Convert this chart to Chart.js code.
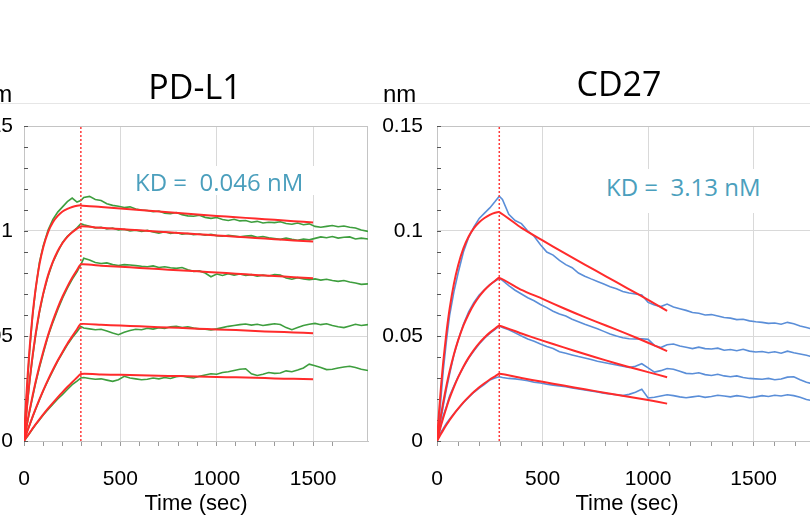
<!DOCTYPE html>
<html><head><meta charset="utf-8">
<script src="https://cdn.jsdelivr.net/npm/chart.js@4.4.1/dist/chart.umd.min.js"></script>
<style>
html,body{margin:0;padding:0;background:#fff;}
body{width:810px;height:521px;overflow:hidden;position:relative;}
canvas{position:absolute;top:0;}
.t{position:absolute;white-space:pre;line-height:1;z-index:2;}
.title{font-family:'Open Sans';font-size:34px;color:#000;text-align:center;width:300px;}
.kd{font-family:'Open Sans';font-size:24px;color:#4b9fbd;background:#fff;}
.nm{font-family:'Liberation Sans';font-size:24px;color:#000;}
</style></head><body>
<div style="position:absolute;left:0;top:103px;width:810px;height:1px;background:#e6e6e6"></div>
<div class="t title" style="left:45px;top:69px">PD-L1</div>
<div class="t title" style="left:469px;top:66px">CD27</div>
<div class="t nm" style="left:-21px;top:82px">nm</div>
<div class="t nm" style="left:383px;top:82px">nm</div>
<div class="t kd" style="left:135px;top:170px;padding:4px 12px 1px 12px;margin:-4px -12px -1px -12px">KD =  0.046 nM</div>
<div class="t kd" style="left:606px;top:175px;padding:6px 12px 14px 14px;margin:-6px -12px -14px -14px">KD =  3.13 nM</div>
<canvas id="c1" width="456" height="521" style="left:-60px"></canvas>
<canvas id="c2" width="475" height="521" style="left:370px"></canvas>
<script>
// ---------- shared time axes (sec) ----------
const assocT = [0,10,20,30,45,60,80,100,125,150,175,200,225,250,275,295];
const fitDissocT_PD = [400,500,600,700,800,900,1000,1100,1200,1300,1400,1500];
const fitDissocT_CD = [400,500,600,700,800,900,1000,1090];
const dataDissocT_PD = [310,340,370,400,430,460,490,520,550,580,610,640,670,700,730,760,790,820,850,880,910,940,970,1000,1030,1060,1090,1120,1150,1180,1210,1240,1270,1300,1330,1360,1390,1420,1450,1480,1510,1540,1570,1600,1630,1660,1690,1720,1750,1785];
const dataDissocT_CD = [310,340,370,400,430,460,490,520,550,580,610,640,670,700,730,760,790,820,850,880,910,940,970,1000,1030,1060,1090,1120,1150,1180,1210,1240,1270,1300,1330,1360,1390,1420,1450,1480,1510,1540,1570,1600,1630,1660,1690,1720,1750,1780,1800];
const switchTime = 295;

// ---------- PD-L1 measured (green) ----------
const pdG1a = [0,.016,.031,.044,.060,.072,.085,.093,.1005,.1055,.109,.1115,.114,.1157,.1138,.1145];
const pdG1d = [.1160,.1165,.1150,.1145,.1130,.1122,.1118,.1112,.1115,.1105,.1100,.1098,.1092,.1095,.1085,.1082,.1088,.1078,.1072,.1070,.1075,.1065,.1060,.1064,.1055,.1050,.1056,.1048,.1050,.1042,.1046,.1038,.1042,.1040,.1044,.1036,.1032,.1038,.1030,.1034,.1022,.1018,.1022,.1026,.1020,.1024,.1018,.1014,.1005,.0998];
const pdG2a = [0,.010,.020,.029,.040,.050,.0612,.070,.0785,.0852,.0900,.0945,.0975,.0995,.1015,.1035];
const pdG2d = [.1030,.1022,.1015,.1018,.1010,.1014,.1005,.1008,.1000,.1004,.0998,.1003,.0995,.0990,.0996,.0988,.0993,.0985,.0988,.0982,.0986,.0980,.0984,.0978,.0975,.0980,.0976,.0972,.0976,.0978,.0970,.0974,.0968,.0964,.0960,.0966,.0960,.0956,.0962,.0958,.0965,.0972,.0968,.0974,.0966,.0970,.0972,.0962,.0966,.0962];
const pdG3a = [0,.005,.0098,.0145,.021,.0275,.035,.0418,.050,.0565,.0625,.068,.0728,.077,.0805,.084];
const pdG3d = [.0870,.0862,.0850,.0845,.0848,.0840,.0836,.0840,.0838,.0835,.0832,.0830,.0834,.0826,.0830,.0825,.0822,.0826,.0815,.0808,.0810,.0800,.0782,.0795,.0788,.0796,.0790,.0795,.0788,.0792,.0785,.0790,.0786,.0792,.0790,.0776,.0770,.0778,.0772,.0768,.0772,.0766,.0770,.0764,.0760,.0764,.0757,.0752,.0746,.0748];
const pdG4a = [0,.0028,.0055,.0078,.0115,.015,.0195,.024,.0288,.0335,.038,.042,.0458,.0492,.052,.0545];
const pdG4d = [.0538,.0534,.0530,.0532,.0524,.0514,.0506,.0518,.0526,.0532,.0530,.0537,.0533,.0540,.0536,.0544,.0546,.0540,.0544,.0538,.0534,.0532,.0529,.0534,.0540,.0546,.0550,.0554,.0557,.0552,.0556,.0550,.0554,.0558,.0555,.0540,.0530,.0540,.0550,.0556,.0560,.0554,.0558,.0550,.0544,.0540,.0548,.0556,.0550,.0554];
const pdG5a = [0,.0012,.0025,.0038,.0058,.0077,.010,.0124,.015,.0175,.020,.0222,.0245,.0268,.0285,.030];
const pdG5d = [.0302,.0298,.0294,.0296,.0290,.0284,.0292,.0308,.0300,.0296,.0292,.0294,.0300,.0296,.0302,.0298,.0306,.0310,.0304,.0300,.0308,.0314,.0320,.0318,.0326,.0330,.0336,.0342,.0344,.0320,.0312,.0318,.0326,.0322,.0324,.0334,.0330,.0338,.0348,.0366,.0358,.0350,.0340,.0342,.0348,.0352,.0356,.0350,.0342,.0336];

// ---------- PD-L1 fits (red) ----------
const pdF1a = [0,.0177,.0326,.0452,.0605,.0722,.0840,.0923,.0995,.1042,.1072,.1093,.1105,.1114,.1120,.1122];
const pdF1d = [.1114,.1107,.1100,.1093,.1086,.1079,.1072,.1066,.1059,.1053,.1047,.1041];
const pdF2a = [0,.0109,.0207,.0295,.0410,.0508,.0617,.0703,.0790,.0854,.0905,.0943,.0972,.0994,.1011,.1022];
const pdF2d = [.1015,.1009,.1003,.0997,.0991,.0985,.0979,.0973,.0967,.0961,.0955,.0950];
const pdF3a = [0,.0053,.0103,.0150,.0218,.0281,.0357,.0426,.0504,.0573,.0634,.0688,.0735,.0777,.0814,.0841];
const pdF3d = [.0835,.0830,.0824,.0819,.0813,.0808,.0802,.0797,.0791,.0786,.0780,.0775];
const pdF4a = [0,.0027,.0054,.0079,.0117,.0153,.0198,.0241,.0292,.0339,.0383,.0424,.0463,.0498,.0532,.0557];
const pdF4d = [.0553,.0550,.0546,.0542,.0539,.0535,.0531,.0528,.0524,.0520,.0517,.0513];
const pdF5a = [0,.0014,.0027,.0040,.0060,.0079,.0103,.0127,.0155,.0182,.0208,.0233,.0257,.0280,.0302,.0319];
const pdF5d = [.0317,.0315,.0313,.0311,.0309,.0307,.0305,.0303,.0301,.0298,.0296,.0294];

// ---------- CD27 measured (blue) ----------
const cdB1a = [0,.010,.022,.034,.048,.060,.071,.080,.090,.097,.1020,.1060,.1085,.1110,.1140,.1166];
const cdB1d = [.1150,.1080,.1050,.1035,.1000,.0975,.0935,.0900,.0885,.0860,.0840,.0825,.0800,.0785,.0772,.0760,.0748,.0735,.0725,.0712,.0705,.0700,.0695,.0660,.0648,.0640,.0652,.0638,.0630,.0622,.0612,.0608,.0600,.0602,.0595,.0588,.0585,.0578,.0580,.0572,.0568,.0565,.0560,.0562,.0556,.0565,.0558,.0548,.0540,.0532,.0528];
const cdB2a = [0,.005,.011,.017,.025,.032,.041,.048,.0555,.0615,.0660,.0695,.0720,.0745,.0762,.0774];
const cdB2d = [.0765,.0740,.0718,.0700,.0682,.0668,.0650,.0635,.0618,.0605,.0595,.0580,.0568,.0556,.0545,.0534,.0522,.0510,.0500,.0492,.0487,.0486,.0487,.0484,.0455,.0445,.0458,.0462,.0452,.0446,.0440,.0447,.0440,.0438,.0442,.0432,.0436,.0430,.0437,.0428,.0424,.0426,.0420,.0425,.0418,.0428,.0420,.0414,.0408,.0400,.0398];
const cdB3a = [0,.0045,.0085,.0120,.0165,.0215,.0262,.0305,.0352,.0395,.0430,.0462,.0490,.0512,.0532,.0547];
const cdB3d = [.0540,.0530,.0515,.0500,.0486,.0475,.0462,.0450,.0440,.0425,.0418,.0410,.0402,.0395,.0388,.0380,.0374,.0368,.0362,.0356,.0350,.0356,.0368,.0348,.0328,.0335,.0345,.0342,.0332,.0322,.0320,.0325,.0316,.0312,.0318,.0310,.0306,.0310,.0302,.0298,.0296,.0294,.0298,.0292,.0295,.0304,.0306,.0292,.0280,.0272,.0270];
const cdB4a = [0,.0025,.0045,.0060,.0085,.0105,.0130,.0152,.0182,.0208,.0232,.0252,.0270,.0290,.0300,.0306];
const cdB4d = [.0302,.0298,.0296,.0292,.0287,.0280,.0276,.0270,.0266,.0262,.0258,.0252,.0248,.0243,.0238,.0234,.0228,.0224,.0220,.0216,.0222,.0232,.0246,.0205,.0208,.0214,.0220,.0216,.0210,.0206,.0210,.0214,.0208,.0212,.0218,.0214,.0210,.0216,.0212,.0206,.0210,.0216,.0212,.0218,.0214,.0220,.0216,.0208,.0198,.0192,.0190];

// ---------- CD27 fits (red) ----------
const cdF1a = [0,.0145,.0271,.0381,.0518,.0631,.0748,.0836,.0917,.0974,.1014,.1042,.1062,.1077,.1087,.1090];
const cdF1d = [.1015,.0955,.0897,.0840,.0784,.0728,.0672,.0620];
const cdF2a = [0,.0068,.0130,.0187,.0265,.0333,.0412,.0479,.0549,.0605,.0651,.0688,.0719,.0743,.0763,.0777];
const cdF2d = [.0720,.0677,.0632,.0590,.0550,.0510,.0468,.0428];
const cdF3a = [0,.0040,.0077,.0112,.0160,.0205,.0257,.0303,.0354,.0397,.0434,.0466,.0493,.0516,.0535,.0549];
const cdF3d = [.0512,.0478,.0446,.0414,.0384,.0355,.0328,.0304];
const cdF4a = [0,.0018,.0036,.0053,.0077,.0100,.0128,.0154,.0184,.0210,.0234,.0256,.0275,.0293,.0308,.0320];
const cdF4d = [.0300,.0282,.0264,.0246,.0229,.0212,.0195,.0178];

// ---------- axis ticks ----------
const yMajor = [0, 0.05, 0.1, 0.15];
const xMajor = [0, 500, 1000, 1500];

// ---------- helpers ----------
const pts = (ta, va, tb, vb) => ta.concat(tb).map((x, i) => ({x, y: va.concat(vb)[i]}));
const RED = '#ff2b2b', GREEN = '#3e9e3e', BLUE = '#5a8ed8';

const framePlugin = {
  id: 'frame',
  beforeDatasetsDraw(chart) {
    const {ctx, chartArea: a, scales: {y}} = chart;
    ctx.save();
    ctx.strokeStyle = '#c4c4c4'; ctx.lineWidth = 1;
    ctx.strokeRect(Math.round(a.left) + 0.5, Math.round(a.top) + 0.5, Math.round(a.right - a.left) - 1, Math.round(a.bottom - a.top));
    ctx.strokeStyle = '#555';
    y.ticks.forEach(t => {
      const py = Math.round(y.getPixelForValue(t.value)) + 0.5;
      ctx.beginPath(); ctx.moveTo(a.left, py); ctx.lineTo(a.left + 4, py); ctx.stroke();
    });
    ctx.restore();
  }
};

function makeChart(id, xMax, yAxisWidth, yLabelPad, padRight, fits, meas, measColor) {
  const datasets = [];
  datasets.push({data: [{x: switchTime, y: 0}, {x: switchTime, y: 0.15}], borderColor: '#ff3a3a', borderWidth: 1.5, borderDash: [2, 2], pointRadius: 0});
  fits.forEach(d => datasets.push({data: d, borderColor: RED, borderWidth: 2, pointRadius: 0, tension: 0.2}));
  meas.forEach(d => datasets.push({data: d, borderColor: measColor, borderWidth: 1.6, pointRadius: 0, tension: 0}));
  return new Chart(document.getElementById(id), {
    type: 'line',
    data: {datasets},
    plugins: [framePlugin],
    options: {
      responsive: false, animation: false,
      layout: {padding: {top: 126, left: 0, right: padRight, bottom: 0}},
      plugins: {legend: {display: false}, tooltip: {enabled: false}},
      scales: {
        x: {
          type: 'linear', min: 0, max: xMax,
          afterFit: s => { s.height = 80; },
          border: {color: '#c4c4c4'},
          grid: {
            color: c => (c.tick && c.tick.value > 0 && xMajor.includes(c.tick.value)) ? '#d9d9d9' : 'transparent',
            tickColor: c => (c.tick && c.tick.value % 100 === 0) ? '#9a9a9a' : 'transparent',
            tickLength: 5, drawTicks: true
          },
          ticks: {
            stepSize: 100, autoSkip: false, maxRotation: 0, padding: 21, color: '#000',
            font: {family: 'Liberation Sans', size: 21},
            callback: v => xMajor.includes(v) ? String(v) : ''
          },
          title: {display: true, text: 'Time (sec)', color: '#000', font: {family: 'Liberation Sans', size: 22}, padding: {top: 0, bottom: 4}}
        },
        y: {
          min: 0, max: 0.15,
          afterFit: s => { s.width = yAxisWidth; },
          border: {color: '#c4c4c4'},
          grid: {
            drawTicks: false,
            color: c => {
              if (!c.tick) return 'transparent';
              const r = Math.round(c.tick.value * 100);
              return (r === 5 || r === 10) ? '#d9d9d9' : 'transparent';
            }
          },
          ticks: {
            stepSize: 0.01, autoSkip: false, padding: yLabelPad, color: '#000',
            font: {family: 'Liberation Sans', size: 21},
            callback: v => {
              const r = Math.round(v * 100);
              return yMajor.some(m => Math.round(m * 100) === r) ? String(r / 100) : '';
            }
          }
        }
      }
    }
  });
}

makeChart('c1', 1785, 84, 11, 28,
  [pts(assocT, pdF1a, fitDissocT_PD, pdF1d), pts(assocT, pdF2a, fitDissocT_PD, pdF2d), pts(assocT, pdF3a, fitDissocT_PD, pdF3d), pts(assocT, pdF4a, fitDissocT_PD, pdF4d), pts(assocT, pdF5a, fitDissocT_PD, pdF5d)],
  [pts(assocT, pdG1a, dataDissocT_PD, pdG1d), pts(assocT, pdG2a, dataDissocT_PD, pdG2d), pts(assocT, pdG3a, dataDissocT_PD, pdG3d), pts(assocT, pdG4a, dataDissocT_PD, pdG4d), pts(assocT, pdG5a, dataDissocT_PD, pdG5d)],
  GREEN);

makeChart('c2', 1800, 67, 14, 28,
  [pts(assocT, cdF1a, fitDissocT_CD, cdF1d), pts(assocT, cdF2a, fitDissocT_CD, cdF2d), pts(assocT, cdF3a, fitDissocT_CD, cdF3d), pts(assocT, cdF4a, fitDissocT_CD, cdF4d)],
  [pts(assocT, cdB1a, dataDissocT_CD, cdB1d), pts(assocT, cdB2a, dataDissocT_CD, cdB2d), pts(assocT, cdB3a, dataDissocT_CD, cdB3d), pts(assocT, cdB4a, dataDissocT_CD, cdB4d)],
  BLUE);
</script>
</body></html>
